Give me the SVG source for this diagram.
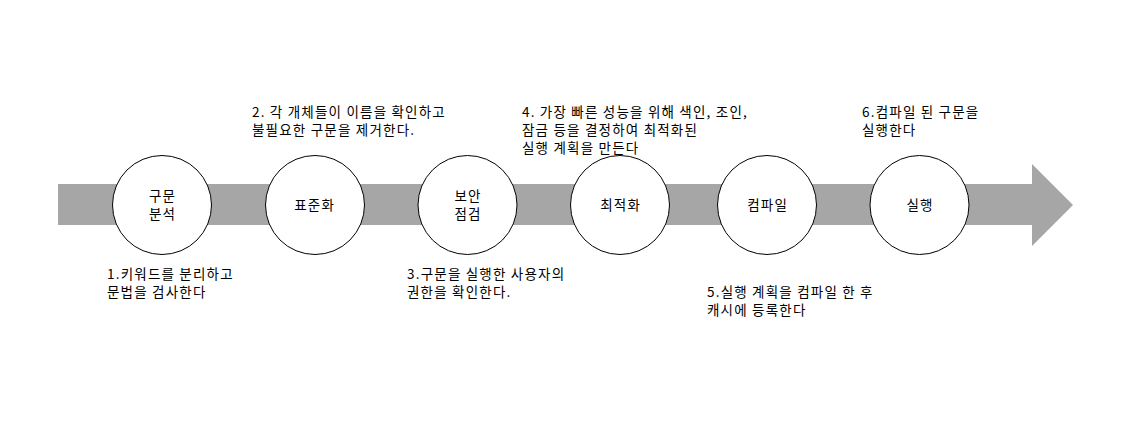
<svg xmlns="http://www.w3.org/2000/svg" width="1148" height="422" viewBox="0 0 1148 422">
<style>
.n{fill:#fff;stroke:#000;stroke-width:1}
.t{font-family:"Noto Sans CJK KR","Noto Sans",sans-serif;font-size:13.5px;letter-spacing:1.2px;fill:#000}
.c{text-anchor:middle}
</style>
<rect width="1148" height="422" fill="#fff"/>
<g id="connectors">
<path d="M58,184 H1032 V164 L1073,205 L1032,246 V225 H58 Z" fill="#a6a6a6"/>
</g>
<g id="node1"><circle class="n" cx="162" cy="205" r="49.5"/><text class="t c" x="162.6" y="201">구문</text><text class="t c" x="162.6" y="219">분석</text></g>
<g id="node2"><circle class="n" cx="315" cy="205" r="49.5"/><text class="t c" x="314.6" y="210">표준화</text></g>
<g id="node3"><circle class="n" cx="467.5" cy="205" r="49.5"/><text class="t c" x="468" y="201">보안</text><text class="t c" x="468" y="219">점검</text></g>
<g id="node4"><circle class="n" cx="620" cy="205" r="49.5"/><text class="t c" x="620.6" y="210">최적화</text></g>
<g id="node5"><circle class="n" cx="767" cy="205" r="49.5"/><text class="t c" x="767.6" y="210">컴파일</text></g>
<g id="node6"><circle class="n" cx="919.5" cy="205" r="49.5"/><text class="t c" x="920" y="210">실행</text></g>
<g id="label1"><text class="t" x="107" y="279">1.키워드를 분리하고</text><text class="t" x="107" y="297">문법을 검사한다</text></g>
<g id="label2"><text class="t" x="252" y="117">2. 각 개체들이 이름을 확인하고</text><text class="t" x="252" y="135">불필요한 구문을 제거한다.</text></g>
<g id="label3"><text class="t" x="407" y="279">3.구문을 실행한 사용자의</text><text class="t" x="407" y="297">권한을 확인한다.</text></g>
<g id="label4"><text class="t" x="522" y="117">4. 가장 빠른 성능을 위해 색인, 조인,</text><text class="t" x="522" y="135">잠금 등을 결정하여 최적화된</text><text class="t" x="522" y="153">실행 계획을 만든다</text></g>
<g id="label5"><text class="t" x="707" y="297">5.실행 계획을 컴파일 한 후</text><text class="t" x="707" y="315">캐시에 등록한다</text></g>
<g id="label6"><text class="t" x="862" y="117">6.컴파일 된 구문을</text><text class="t" x="862" y="135">실행한다</text></g>
</svg>
